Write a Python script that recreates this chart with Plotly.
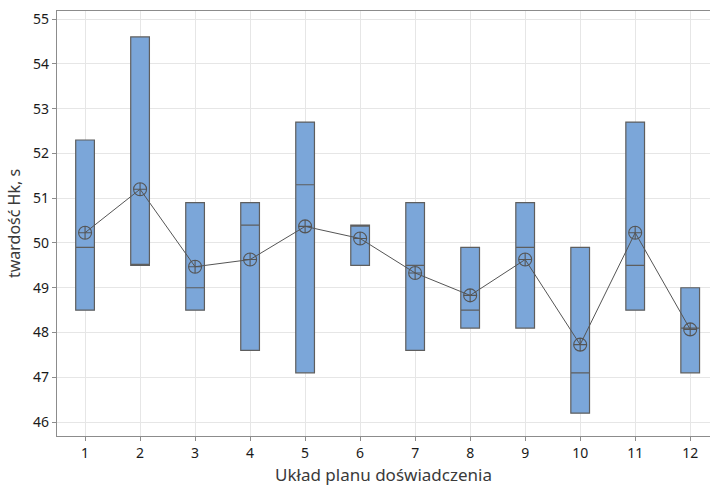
import plotly.graph_objects as go

# Experimental plan layouts (1..12) and hardness summary per layout
layouts = [1, 2, 3, 4, 5, 6, 7, 8, 9, 10, 11, 12]
box_low = [48.5, 49.5, 48.5, 47.6, 47.1, 49.5, 47.6, 48.1, 48.1, 46.2, 48.5, 47.1]
box_median = [49.9, 49.5, 49.0, 50.4, 51.3, 50.4, 49.5, 48.5, 49.9, 47.1, 49.5, 48.1]
box_high = [52.3, 54.6, 50.9, 50.9, 52.7, 50.4, 50.9, 49.9, 50.9, 49.9, 52.7, 49.0]
means = [50.23, 51.20, 49.47, 49.63, 50.37, 50.10, 49.33, 48.83, 49.63, 47.73, 50.23, 48.07]

FONT = "Noto Sans"
BOX_FILL = "#7BA6D9"
EDGE = "#5E5E5E"
GRID = "#E6E6E6"
AXIS = "#8C8C8C"

fig = go.Figure()

fig.add_trace(go.Box(
    x=layouts,
    q1=box_low,
    median=box_median,
    q3=box_high,
    lowerfence=box_low,
    upperfence=box_high,
    width=0.34,
    whiskerwidth=0,
    fillcolor=BOX_FILL,
    line=dict(color=EDGE, width=1.2),
    boxpoints=False,
    hoverinfo="skip",
    showlegend=False,
))

fig.add_trace(go.Scatter(
    x=layouts,
    y=means,
    mode="lines+markers",
    line=dict(color="#555555", width=1),
    marker=dict(symbol="circle-cross-open", size=13,
                color="#555555", line=dict(width=1.1, color="#555555")),
    showlegend=False,
))

fig.update_layout(
    width=710,
    height=486,
    margin=dict(l=57, r=0, t=11, b=50),
    paper_bgcolor="white",
    plot_bgcolor="white",
    font=dict(family=FONT, color="#1A1A1A", size=14),
    showlegend=False,
)

fig.update_xaxes(
    range=[0.49, 12.36],
    tickmode="array",
    tickvals=layouts,
    ticktext=[str(v) for v in layouts],
    showgrid=True,
    gridcolor=GRID,
    gridwidth=1,
    zeroline=False,
    showline=True,
    linecolor=AXIS,
    linewidth=1.2,
    mirror=True,
    ticks="outside",
    ticklen=4,
    tickcolor=AXIS,
    tickfont=dict(family=FONT, size=14, color="#1A1A1A"),
    title=dict(text="Układ planu doświadczenia",
               font=dict(family=FONT, size=17, color="#3A3A3A"),
               standoff=10),
)

fig.update_yaxes(
    range=[45.69, 55.18],
    tickmode="array",
    tickvals=[46, 47, 48, 49, 50, 51, 52, 53, 54, 55],
    showgrid=True,
    gridcolor=GRID,
    gridwidth=1,
    zeroline=False,
    showline=True,
    linecolor=AXIS,
    linewidth=1.2,
    ticks="outside",
    ticklen=4,
    tickcolor=AXIS,
    tickfont=dict(family=FONT, size=14, color="#1A1A1A"),
    title=dict(text="twardość Hk, s",
               font=dict(family=FONT, size=16, color="#3A3A3A"),
               standoff=8),
)

fig.write_html("out.html")
